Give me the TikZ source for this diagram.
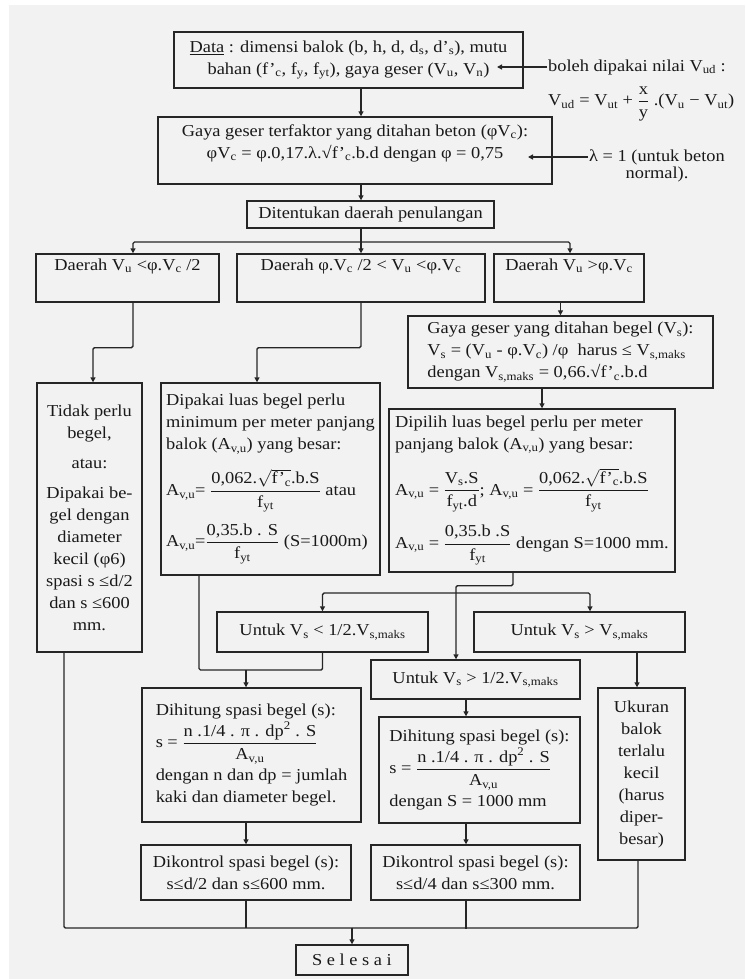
\documentclass[tikz,border=0pt]{standalone}
\usepackage{amsmath,amssymb}
\usepackage{fontspec}
\setmainfont{Liberation Serif}[FakeStretch=1.1]
\usepackage{tikz}
\usetikzlibrary{arrows.meta,positioning}
\newcommand{\sbs}[1]{\textsubscript{#1}}
\tikzset{
  kotak/.style={draw=black!85,line width=1.4pt,align=center,inner xsep=4pt,inner ysep=3pt,
    font=\fontsize{16.7}{22}\selectfont,text=black!90},
  kiri/.style={kotak,align=left},
  zona/.style={kotak,text height=13pt,text depth=29pt},
  ket/.style={inner sep=1pt,font=\fontsize{16.7}{22}\selectfont,text=black!90},
  ln/.style={draw=black!85,line width=1.4pt,rounded corners=1.5pt},
  fl/.style={ln,-{Triangle[length=5pt,width=5pt]}},
}
\begin{document}
\begin{tikzpicture}[x=1pt,y=-1pt]
  \useasboundingbox (0,0) rectangle (745,979);
  \fill[gray!10] (9,5) rectangle (745,979);
  % data dan kuat geser beton
  \node[kotak,minimum width=349pt,minimum height=56pt] (data) at (348.5,60)
    {\underline{Data} : dimensi balok (b, h, d, d\sbs{s}, d'\sbs{s}), mutu\\
     bahan (f'\sbs{c}, f\sbs{y}, f\sbs{yt}), gaya geser (V\sbs{u}, V\sbs{n})};
  \node[ket,anchor=west] (boleh) at (547,67) {boleh dipakai nilai V\sbs{ud} :};
  \node[ket,anchor=west] (rumus) at (547,104)
    {V\sbs{ud} = V\sbs{ut} + \(\dfrac{\text{x}}{\text{y}}\) .(V\sbs{u} − V\sbs{ut})};
  \node[kotak,minimum width=394pt,minimum height=67pt] (gaya) at (355,150.5)
    {Gaya geser terfaktor yang ditahan beton (φV\sbs{c}):\\
     φV\sbs{c} = φ.0,17.λ.√f'\sbs{c}.b.d dengan φ = 0,75\rule[-18pt]{0pt}{0pt}};
  \node[ket,anchor=west] (lam1) at (588,157) {λ = 1 (untuk beton};
  \node[ket,below=0pt of lam1] (lam2) {normal).};
  \node[kotak,minimum width=247pt,minimum height=27pt] (dit) at (370.5,214.5)
    {Ditentukan daerah penulangan};
  % tiga daerah
  \node[zona,minimum width=183pt] (d1) at (127.5,278) {Daerah V\sbs{u} <φ.V\sbs{c} /2};
  \node[zona,minimum width=248pt] (d2) at (361,278) {Daerah φ.V\sbs{c} /2 < V\sbs{u} <φ.V\sbs{c}};
  \node[zona,minimum width=150pt] (d3) at (569,278) {Daerah V\sbs{u} >φ.V\sbs{c}};
  \node[kotak,minimum width=105pt,minimum height=269pt] (tidak) at (89.5,517.5)
    {Tidak perlu\\begel,\\[8pt]atau:\\[8pt]Dipakai be-\\gel dengan\\diameter\\
     kecil (φ6)\\spasi s ≤d/2\\dan s ≤600\\mm.};
  \node[kiri,minimum width=219pt,minimum height=192pt] (dipakai) at (270.5,479)
    {Dipakai luas begel perlu\\minimum per meter panjang\\balok (A\sbs{v,u}) yang besar:\\[14pt]
     A\sbs{v,u}= \(\dfrac{\text{0,062.}\sqrt{\text{f'\sbs{c}}}\text{.b.S}}{\text{f\sbs{yt}}}\) atau\\[10pt]
     A\sbs{v,u}=\(\dfrac{\text{0,35.b . S}}{\text{f\sbs{yt}}}\) (S=1000m)};
  \node[kiri,minimum width=305pt,minimum height=72pt] (gbeg) at (560.5,352)
    {Gaya geser yang ditahan begel (V\sbs{s}):\\
     V\sbs{s} = (V\sbs{u} - φ.V\sbs{c}) /φ\ \ harus ≤ V\sbs{s,maks}\\
     dengan V\sbs{s,maks} = 0,66.√f'\sbs{c}.b.d};
  \node[kiri,minimum width=286pt,minimum height=163pt] (dipilih) at (532,490.5)
    {Dipilih luas begel perlu per meter\\panjang balok (A\sbs{v,u}) yang besar:\\[14pt]
     A\sbs{v,u} = \(\dfrac{\text{V\sbs{s}.S}}{\text{f\sbs{yt}.d}}\); A\sbs{v,u} =
     \(\dfrac{\text{0,062.}\sqrt{\text{f'\sbs{c}}}\text{.b.S}}{\text{f\sbs{yt}}}\)\\[12pt]
     A\sbs{v,u} = \(\dfrac{\text{0,35.b .S}}{\text{f\sbs{yt}}}\) dengan S=1000 mm.};
  % pembagian menurut V_s
  \node[kotak,minimum width=211pt,minimum height=40pt] (ukecil) at (322.5,632)
    {Untuk V\sbs{s} < 1/2.V\sbs{s,maks}};
  \node[kotak,minimum width=211pt,minimum height=40pt] (ubesar) at (579.5,632)
    {Untuk V\sbs{s} > V\sbs{s,maks}};
  \node[kotak,minimum width=209pt,minimum height=39pt] (usedang) at (475.5,679.5)
    {Untuk V\sbs{s} > 1/2.V\sbs{s,maks}};
  \node[kotak,minimum width=87pt,minimum height=172pt] (ukuran) at (641.5,774)
    {Ukuran\\balok\\terlalu\\kecil\\(harus\\diper-\\besar)};
  \node[kiri,minimum width=219pt,minimum height=134pt] (hit1) at (251.5,755)
    {Dihitung spasi begel (s):\\[2pt]
     s = \(\dfrac{\text{n .1/4 . π . dp\textsuperscript{2} . S}}{\text{A\sbs{v,u}}}\)\\[4pt]
     dengan n dan dp = jumlah\\kaki dan diameter begel.};
  \node[kiri,minimum width=201pt,minimum height=106pt] (hit2) at (479.5,770)
    {Dihitung spasi begel (s):\\[2pt]
     s = \(\dfrac{\text{n .1/4 . π . dp\textsuperscript{2} . S}}{\text{A\sbs{v,u}}}\)\\[4pt]
     dengan S = 1000 mm};
  \node[kotak,minimum width=210pt,minimum height=55pt] (kon1) at (246,872.5)
    {Dikontrol spasi begel (s):\\s≤d/2 dan s≤600 mm.};
  \node[kotak,minimum width=209pt,minimum height=55pt] (kon2) at (475.5,872.5)
    {Dikontrol spasi begel (s):\\s≤d/4 dan s≤300 mm.};
  \node[kotak,minimum width=112pt,minimum height=30pt] (selesai) at (352,960) {S e l e s a i};

  \coordinate (sumbu) at (361,0);
  \coordinate (cab1) at (361,242);
  \coordinate (ujung1) at (497,67);
  \coordinate (ujung2) at (528,157);
  \coordinate (cab2) at (456,593);
  \coordinate (temu) at (246,670);
  \coordinate (akhir) at (352,928);

  \draw[fl] (boleh.west) -- (ujung1);
  \draw[fl] (lam1.west) -- (ujung2);
  \draw[fl] (data.south -| sumbu) -- (gaya.north -| sumbu);
  \draw[fl] (gaya.south -| sumbu) -- (dit.north -| sumbu);
  \draw[ln] (dit.south -| sumbu) -- (cab1);
  \draw[fl] (cab1) -- (d2.north);
  \draw[fl] (cab1) -| ([xshift=5.5pt]d1.north);
  \draw[fl] (cab1) -| ([xshift=1pt]d3.north);
  \draw[fl] ([xshift=5.5pt]d1.south) -- ++(0,45) -| ([xshift=3.5pt]tidak.north);
  \draw[fl] (d2.south) -- ++(0,45) -| ([xshift=-13.5pt]dipakai.north);
  \draw[fl] (d3.south -| gbeg.north) -- (gbeg.north);
  \draw[fl] ([xshift=-18.5pt]gbeg.south) -- ([xshift=10pt]dipilih.north);
  \draw[fl] ([xshift=-19pt]dipilih.south) -- ++(0,13) -| ([xshift=-19.5pt]usedang.north);
  \draw[fl] (cab2) -| (ukecil.north);
  \draw[fl] (cab2) -| ([xshift=10.5pt]ubesar.north);
  \draw[fl] ([xshift=57.5pt]ubesar.south) -- ([xshift=-4.5pt]ukuran.north);
  \draw[ln] ([xshift=-71.5pt]dipakai.south) |- (temu) -| (ukecil.south);
  \draw[fl] (temu) -- (hit1.north -| temu);
  \draw[fl] ([xshift=-9.5pt]usedang.south) -- ([xshift=-13.5pt]hit2.north);
  \draw[fl] (hit1.south -| kon1.north) -- (kon1.north);
  \draw[fl] ([xshift=-13.5pt]hit2.south) -- ([xshift=-9.5pt]kon2.north);
  % menuju selesai
  \draw[ln] ([xshift=-25.5pt]tidak.south) |- (akhir);
  \draw[ln] ([xshift=-3.5pt]ukuran.south) |- (akhir);
  \draw[ln] (kon1.south) -- (kon1.south |- akhir);
  \draw[ln] ([xshift=-9.5pt]kon2.south) -- ++(0,28);
  \draw[fl] (akhir) -- (selesai.north);
\end{tikzpicture}
\end{document}
